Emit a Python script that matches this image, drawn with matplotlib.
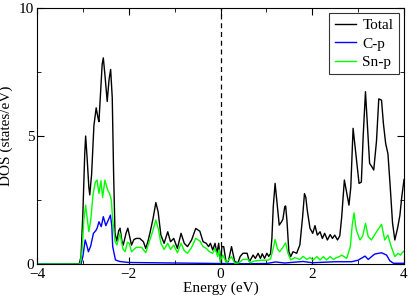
"""DOS plot: total and projected p states."""
import matplotlib.pyplot as plt

plt.rcParams["font.family"] = ["Liberation Serif", "DejaVu Serif"]

# total DOS
energy_total = [
    -4.0, -3.08, -3.04, -3.0, -2.96, -2.94, -2.91, -2.87, -2.85, -2.81, -2.76,
    -2.71, -2.67, -2.65, -2.61, -2.58, -2.555, -2.52, -2.47, -2.43, -2.395,
    -2.36, -2.33, -2.30, -2.26, -2.22, -2.19, -2.15, -2.12, -2.06, -2.02,
    -1.94, -1.89, -1.84, -1.76, -1.68, -1.63, -1.58, -1.54, -1.47, -1.41,
    -1.36, -1.30, -1.23, -1.15, -1.09, -1.02, -0.94, -0.86, -0.79, -0.72,
    -0.63, -0.54, -0.45, -0.38, -0.31, -0.26, -0.22, -0.17, -0.12, -0.08,
    -0.04, 0.0, 0.03, 0.07, 0.12, 0.17, 0.24, 0.31, 0.38, 0.43, 0.49, 0.58,
    0.63, 0.71, 0.76, 0.82, 0.87, 0.91, 0.96, 1.01, 1.05, 1.09, 1.12, 1.15,
    1.19, 1.24, 1.28, 1.33, 1.36, 1.40, 1.42, 1.45, 1.49, 1.53, 1.58, 1.66,
    1.73, 1.79, 1.83, 1.86, 1.89, 1.95, 2.01, 2.06, 2.11, 2.17, 2.22, 2.27,
    2.33, 2.39, 2.44, 2.49, 2.55, 2.60, 2.64, 2.70, 2.75, 2.80, 2.84, 2.89,
    2.95, 3.02, 3.07, 3.11, 3.16, 3.20, 3.25, 3.30, 3.34, 3.40, 3.45, 3.51,
    3.55, 3.60, 3.65, 3.70, 3.75, 3.80, 3.86, 3.91, 3.95, 4.0,
]
dos_total = [
    0.0, 0.0, 0.3, 2.0, 4.3, 5.0, 4.2, 3.0, 2.7, 3.5, 5.4,
    6.1, 5.7, 5.56, 6.8, 7.8, 8.05, 7.4, 6.35, 7.2, 7.6,
    6.5, 3.5, 1.2, 0.9, 1.3, 1.4, 0.9, 0.74, 1.2, 1.4,
    0.74, 0.95, 1.0, 1.0, 0.87, 0.61, 0.9, 1.2, 1.78, 2.4,
    2.04, 1.13, 0.81, 1.26, 0.87, 1.0, 0.61, 1.2, 0.81, 0.68,
    0.94, 1.39, 1.28, 0.87, 0.81, 0.68, 0.81, 0.55, 0.81, 0.42,
    0.81, 0.09, 0.68, 0.68, 0.09, 0.09, 0.68, 0.09, 0.05, 0.3, 0.42, 0.42,
    0.09, 0.35, 0.22, 0.42, 0.22, 0.40, 0.22, 0.42, 0.3, 0.4, 1.0, 2.24,
    3.15, 2.24, 1.52, 1.65, 1.75, 2.24, 2.27, 1.65, 0.48, 0.29, 0.48, 0.42,
    0.75, 1.85, 2.75, 2.6, 2.11, 1.4, 1.2, 1.5, 1.13, 1.26, 1.0, 1.2,
    0.94, 1.15, 1.0, 1.13, 0.94, 1.1, 1.8, 3.28, 2.8, 2.3, 3.0, 5.3,
    4.3, 3.15, 3.2, 5.0, 6.73, 5.5, 3.93, 3.8, 3.67, 4.8, 6.45, 6.4,
    5.5, 4.71, 4.3, 3.0, 1.6, 0.94, 1.4, 1.9, 2.6, 3.3,
]

# C-p projected DOS
energy_c = [
    -4.0, -3.04, -3.0, -2.95, -2.91, -2.88, -2.83, -2.77, -2.72, -2.69,
    -2.65, -2.60, -2.555, -2.50, -2.45, -2.40, -2.37, -2.35, -2.29, -2.2,
    -2.0, -1.5, -1.0, -0.5, 0.0, 0.5, 1.0, 1.2, 1.4, 1.8, 2.0, 2.5, 2.86,
    3.0, 3.15, 3.22, 3.36, 3.51, 3.62, 3.69, 3.77, 4.0,
]
dos_c = [
    0.0, 0.0, 0.3, 0.94, 0.7, 0.48, 0.7, 1.2, 1.3, 1.4,
    1.65, 1.46, 1.85, 1.5, 1.7, 1.91, 1.5, 0.68, 0.16, 0.1,
    0.06, 0.05, 0.04, 0.03, 0.02, 0.01, 0.02, 0.08, 0.04, 0.1, 0.05, 0.09, 0.09,
    0.15, 0.31, 0.18, 0.39, 0.44, 0.35, 0.13, 0.03, 0.03,
]

# Sn-p projected DOS
energy_sn = [
    -4.0, -3.06, -3.02, -2.98, -2.94, -2.90, -2.87, -2.83, -2.78, -2.73,
    -2.69, -2.65, -2.606, -2.57, -2.52, -2.46, -2.42, -2.38, -2.35, -2.30,
    -2.26, -2.19, -2.13, -2.08, -2.03, -1.99, -1.94, -1.84, -1.72, -1.63,
    -1.54, -1.47, -1.41, -1.35, -1.30, -1.23, -1.15, -1.09, -1.02, -0.94,
    -0.86, -0.79, -0.72, -0.63, -0.54, -0.45, -0.38, -0.31, -0.24, -0.17,
    -0.12, -0.06, -0.02, 0.0, 0.05, 0.13, 0.24, 0.31, 0.40, 0.49, 0.60,
    0.65, 0.74, 0.89, 1.03, 1.09, 1.15, 1.19, 1.24, 1.29, 1.36, 1.42, 1.47,
    1.53, 1.62, 1.73, 1.80, 1.88, 1.95, 2.02, 2.10, 2.17, 2.24, 2.31, 2.39,
    2.46, 2.53, 2.60, 2.64, 2.70, 2.75, 2.83, 2.87, 2.91, 2.96, 3.04, 3.10,
    3.16, 3.22, 3.29, 3.40, 3.51, 3.58, 3.65, 3.71, 3.80, 3.87, 3.92, 3.98,
    4.0,
]
dos_sn = [
    0.0, 0.0, 0.5, 1.7, 2.3, 1.7, 1.26, 1.7, 2.7, 3.2,
    3.28, 2.76, 3.25, 2.6, 3.28, 2.89, 2.76, 2.5, 1.72, 0.9,
    0.74, 1.2, 0.6, 0.48, 0.85, 0.81, 0.48, 0.65, 0.65, 0.44,
    0.94, 1.33, 1.72, 1.33, 0.81, 0.57, 0.81, 0.57, 0.74, 0.44,
    0.81, 0.52, 0.42, 0.65, 1.0, 0.9, 0.68, 0.61, 0.48, 0.42,
    0.61, 0.29, 0.55, 0.05, 0.35, 0.05, 0.29, 0.03, 0.05, 0.18, 0.18,
    0.05, 0.12, 0.15, 0.15, 0.2, 0.61, 0.96, 0.6, 0.48, 0.65, 0.83, 0.42,
    0.16, 0.25, 0.18, 0.3, 0.18, 0.25, 0.16, 0.29, 0.16, 0.29, 0.16, 0.29,
    0.18, 0.25, 0.3, 0.35, 0.28, 0.22, 0.68, 1.5, 2.0, 1.33, 0.94, 1.1,
    1.59, 1.07, 0.94, 1.26, 1.55, 0.94, 1.13, 0.74, 0.29, 0.42, 0.35, 0.48,
    0.5,
]

fig = plt.figure(figsize=(4.09, 2.96), dpi=100)
ax = fig.add_axes([0.0905, 0.108, 0.8973, 0.865])

ax.plot(energy_total, dos_total, color="black", lw=1.0, label="Total")
ax.plot(energy_c, dos_c, color="blue", lw=1.0, label="C-p")
ax.plot(energy_sn, dos_sn, color="lime", lw=1.0, label="Sn-p")

# Fermi level
ax.axvline(0, color="black", lw=0.9, ls=(0, (4, 3)))

ax.set_xlim(-4, 4)
ax.set_ylim(0, 10)
ax.set_xticks([-4, -2, 0, 2, 4])
ax.set_xticks([-3, -1, 1, 3], minor=True)
ax.set_yticks([0, 5, 10])
ax.set_yticks([2.5, 7.5], minor=True)
ax.tick_params(which="both", direction="in", top=True, right=True,
               labelsize=11)
ax.tick_params(axis="x", pad=3)
ax.tick_params(axis="y", pad=2)
ax.tick_params(which="major", length=5)
ax.tick_params(which="minor", length=3)
ax.set_xlabel("Energy (eV)", fontsize=11, labelpad=0)
ax.set_ylabel("DOS (states/eV)", fontsize=11, labelpad=4)

leg = ax.legend(loc="upper right", fontsize=11, fancybox=False,
                handlelength=1.4, handletextpad=0.4, borderpad=0.35,
                labelspacing=0.3, borderaxespad=0.35)
leg.get_frame().set_edgecolor("black")
leg.get_frame().set_linewidth(0.8)

plt.savefig("out.png", dpi=100)
